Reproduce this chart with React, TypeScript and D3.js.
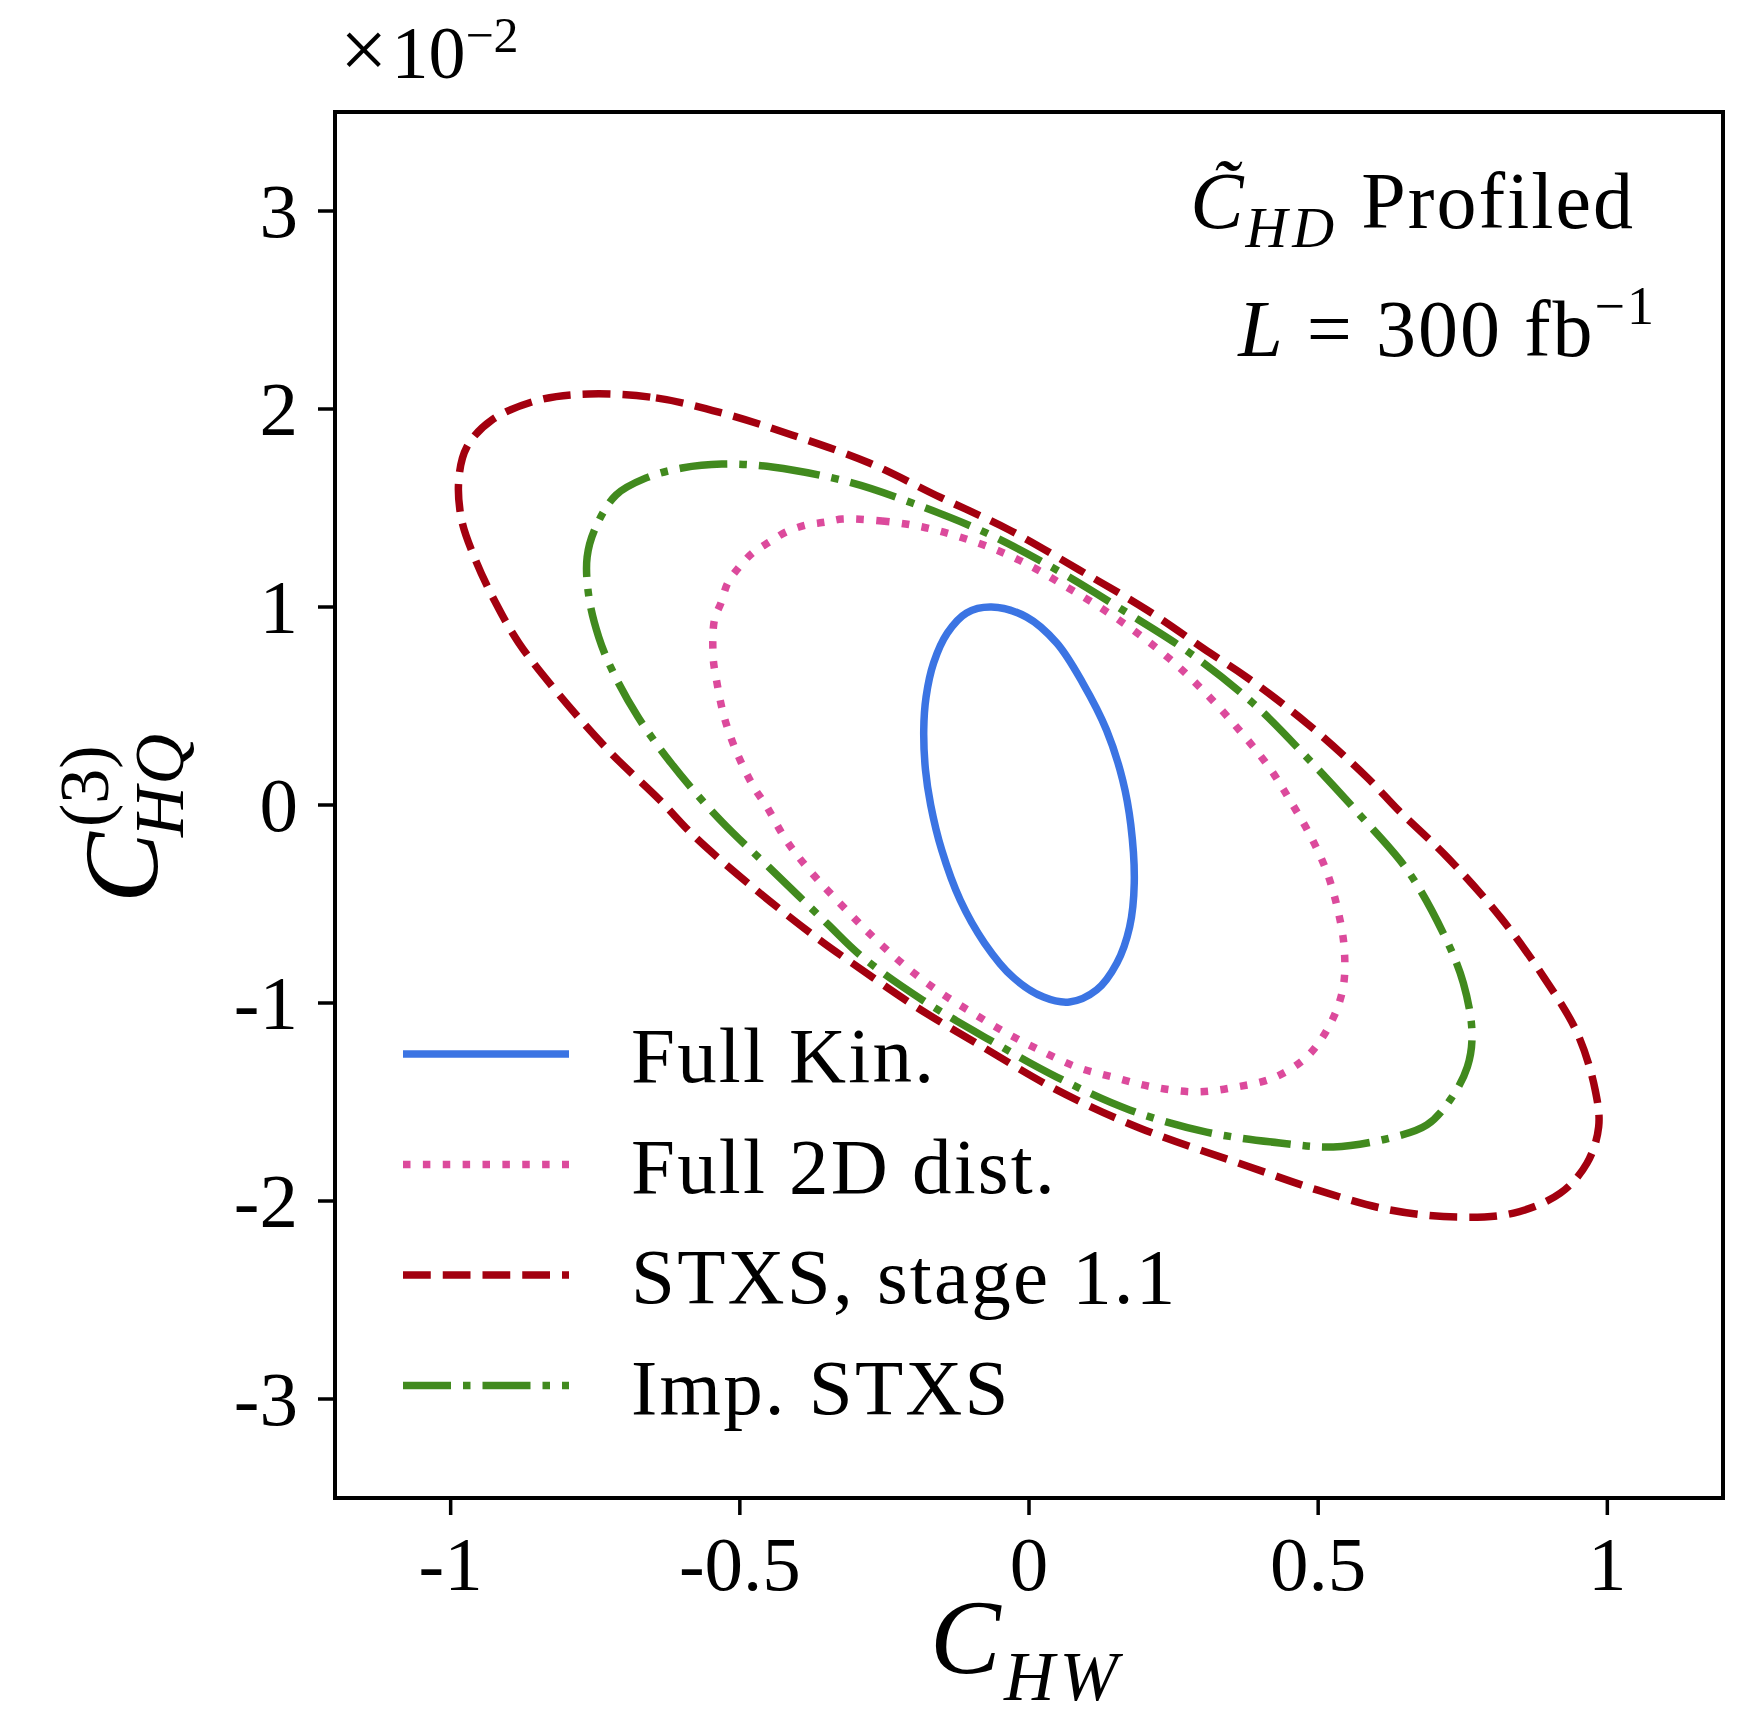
import * as d3 from "d3";

// contour points, in (C_HW, C_HQ^(3) x 1e2)
const fullKin: [number, number][] = [
  [-0.065, 1.0], [-0.004, 0.949], [0.048, 0.818], [0.093, 0.616], [0.134, 0.379],
  [0.162, 0.126], [0.176, -0.1], [0.182, -0.394], [0.174, -0.616], [0.152, -0.798],
  [0.117, -0.934], [0.07, -0.995], [0.025, -0.97], [-0.028, -0.869], [-0.077, -0.697],
  [-0.119, -0.48], [-0.151, -0.227], [-0.17, 0.0], [-0.179, 0.177], [-0.182, 0.379],
  [-0.178, 0.545], [-0.165, 0.717], [-0.141, 0.869], [-0.108, 0.97],
];

const full2D: [number, number][] = [
  [-0.323, 1.444], [-0.254, 1.434], [-0.184, 1.404], [-0.12, 1.354], [-0.056, 1.288],
  [0.006, 1.202], [0.065, 1.101], [0.122, 1.0], [0.18, 0.884], [0.231, 0.768],
  [0.283, 0.631], [0.353, 0.414], [0.416, 0.187], [0.452, 0.02], [0.486, -0.152],
  [0.515, -0.338], [0.534, -0.53], [0.545, -0.722], [0.543, -0.924], [0.52, -1.111],
  [0.48, -1.273], [0.422, -1.379], [0.359, -1.424], [0.29, -1.449], [0.214, -1.424],
  [0.145, -1.374], [0.082, -1.323], [0.018, -1.237], [-0.039, -1.152], [-0.097, -1.051],
  [-0.155, -0.944], [-0.212, -0.818], [-0.264, -0.682], [-0.311, -0.545], [-0.38, -0.328],
  [-0.42, -0.177], [-0.455, 0.0], [-0.475, 0.086], [-0.505, 0.263], [-0.527, 0.444],
  [-0.541, 0.641], [-0.546, 0.742], [-0.544, 0.934], [-0.532, 1.025], [-0.521, 1.121],
  [-0.501, 1.202], [-0.478, 1.273], [-0.449, 1.328], [-0.42, 1.379], [-0.385, 1.414],
  [-0.351, 1.429],
];

const stxs11: [number, number][] = [
  [-0.761, 2.076], [-0.645, 2.056], [-0.531, 1.98], [-0.41, 1.869], [-0.276, 1.727],
  [-0.155, 1.556], [-0.034, 1.389], [0.087, 1.187], [0.204, 0.985], [0.313, 0.768],
  [0.376, 0.646], [0.48, 0.414], [0.584, 0.141], [0.64, -0.03], [0.723, -0.263],
  [0.815, -0.566], [0.89, -0.869], [0.948, -1.152], [0.979, -1.439], [0.985, -1.626],
  [0.965, -1.808], [0.919, -1.96], [0.838, -2.061], [0.74, -2.081], [0.624, -2.045],
  [0.498, -1.944], [0.382, -1.828], [0.191, -1.631], [0.048, -1.439], [-0.08, -1.222],
  [-0.195, -1.02], [-0.306, -0.798], [-0.362, -0.682], [-0.472, -0.429], [-0.578, -0.16],
  [-0.64, 0.03], [-0.723, 0.263], [-0.815, 0.566], [-0.882, 0.818],
  [-0.922, 1.02], [-0.957, 1.237], [-0.981, 1.439], [-0.986, 1.641], [-0.972, 1.808],
  [-0.929, 1.944], [-0.848, 2.045],
];

const impStxs: [number, number][] = [
  [-0.531, 1.722], [-0.444, 1.707], [-0.311, 1.631], [-0.202, 1.525], [-0.074, 1.374],
  [0.048, 1.187], [0.162, 0.985], [0.278, 0.768], [0.387, 0.515], [0.48, 0.242],
  [0.572, -0.05], [0.654, -0.328], [0.716, -0.646], [0.751, -0.899], [0.766, -1.152],
  [0.758, -1.323], [0.728, -1.49], [0.688, -1.616], [0.624, -1.682], [0.526, -1.727],
  [0.434, -1.707], [0.307, -1.652], [0.174, -1.54], [0.048, -1.374], [-0.068, -1.187],
  [-0.184, -0.985], [-0.288, -0.768], [-0.35, -0.596], [-0.45, -0.313], [-0.512, -0.141],
  [-0.558, 0.0], [-0.619, 0.212], [-0.676, 0.444], [-0.721, 0.682], [-0.744, 0.848],
  [-0.761, 1.051], [-0.764, 1.253], [-0.749, 1.404], [-0.714, 1.566], [-0.662, 1.652],
  [-0.6, 1.702],
];

const xTicks = [-1, -0.5, 0, 0.5, 1];
const xTickLabels = ["-1", "-0.5", "0", "0.5", "1"];
const yTicks = [-3, -2, -1, 0, 1, 2, 3];
const yTickLabels = ["-3", "-2", "-1", "0", "1", "2", "3"];

const legendLabels = ["Full Kin.", "Full 2D dist.", "STXS, stage 1.1", "Imp. STXS"];
const seriesColors = ["#3b74e3", "#dc4a9c", "#a3000f", "#418a1e"];

const W = 1742;
const H = 1728;
const lw = 7.5;
const font = "'Liberation Serif', 'Times New Roman', serif";

const App = () => {
  const frame = { left: 335, right: 1723, top: 112, bottom: 1498 };

  const x = d3.scaleLinear().domain([-1.2, 1.2]).range([frame.left, frame.right]);
  const y = d3.scaleLinear().domain([-3.5, 3.5]).range([frame.bottom, frame.top]);

  const line = d3
    .line<[number, number]>()
    .x(d => x(d[0]))
    .y(d => y(d[1]))
    .curve(d3.curveCatmullRomClosed.alpha(0.5));

  const dashes = ["none", `${lw} ${1.65 * lw}`, `${3.7 * lw} ${1.6 * lw}`, `${6.4 * lw} ${1.6 * lw} ${lw} ${1.6 * lw}`];
  const contours = [fullKin, full2D, stxs11, impStxs];

  const tickFs = 77;
  const legendY0 = 1054;
  const legendDy = 110.5;

  return (
    <div style={{ position: "absolute", left: 0, top: 0 }}>
      <svg width={W} height={H} style={{ display: "block", background: "#fff" }} fontFamily={font}>
        <rect x={0} y={0} width={W} height={H} fill="#fff" />

        {/* contours */}
        {contours.map((c, i) => (
          <path
            key={i}
            d={line(c) || ""}
            fill="none"
            stroke={seriesColors[i]}
            strokeWidth={lw}
            strokeDasharray={dashes[i]}
            strokeLinecap="butt"
            strokeLinejoin="round"
          />
        ))}

        {/* frame */}
        <rect
          x={frame.left}
          y={frame.top}
          width={frame.right - frame.left}
          height={frame.bottom - frame.top}
          fill="none"
          stroke="#000"
          strokeWidth={4}
        />

        {/* x ticks */}
        {xTicks.map((t, i) => (
          <g key={t} transform={`translate(${x(t)},${frame.bottom})`}>
            <line y1={0} y2={17} stroke="#000" strokeWidth={3.5} />
            <text y={92} textAnchor="middle" fontSize={tickFs}>{xTickLabels[i]}</text>
          </g>
        ))}

        {/* y ticks */}
        {yTicks.map((t, i) => (
          <g key={t} transform={`translate(${frame.left},${y(t)})`}>
            <line x1={0} x2={-17} stroke="#000" strokeWidth={3.5} />
            <text x={-37} y={26} textAnchor="end" fontSize={tickFs}>{yTickLabels[i]}</text>
          </g>
        ))}

        {/* offset text */}
        <text x={340} y={78} fontSize={74}>
          <tspan fontSize={84}>×</tspan>
          <tspan dx={4}>10</tspan>
          <tspan dy={-26} fontSize={50}>−2</tspan>
        </text>

        {/* x label */}
        <text x={930} y={1673} fontSize={106} fontStyle="italic">C</text>
        <text x={1004} y={1700} fontSize={70} fontStyle="italic" letterSpacing={5}>HW</text>

        {/* y label */}
        <g transform="translate(157,903) rotate(-90)">
          <text x={0} y={0} fontSize={106} fontStyle="italic">C</text>
          <text x={76} y={-49} fontSize={70}>(3)</text>
          <text x={66} y={26} fontSize={70} fontStyle="italic" letterSpacing={2}>HQ</text>
        </g>

        {/* annotation */}
        <text x={1635} y={228} textAnchor="end" fontSize={80} letterSpacing={2}>
          <tspan fontStyle="italic">C&#x0303;</tspan>
          <tspan fontStyle="italic" fontSize={58} dy={19} letterSpacing={5}>HD</tspan>
          <tspan dy={-19}> Profiled</tspan>
        </text>
        <text x={1656} y={356} textAnchor="end" fontSize={80} letterSpacing={2}>
          <tspan fontStyle="italic">L</tspan>
          <tspan> = 300 fb</tspan>
          <tspan fontSize={54} dy={-32}>−1</tspan>
        </text>

        {/* legend */}
        {legendLabels.map((lab, i) => (
          <g key={lab} transform={`translate(0,${legendY0 + i * legendDy})`}>
            <line
              x1={403}
              x2={569}
              stroke={seriesColors[i]}
              strokeWidth={lw}
              strokeDasharray={dashes[i]}
            />
            <text x={631} y={28} fontSize={79} letterSpacing={2.2}>{lab}</text>
          </g>
        ))}
      </svg>
    </div>
  );
};

export default App;
